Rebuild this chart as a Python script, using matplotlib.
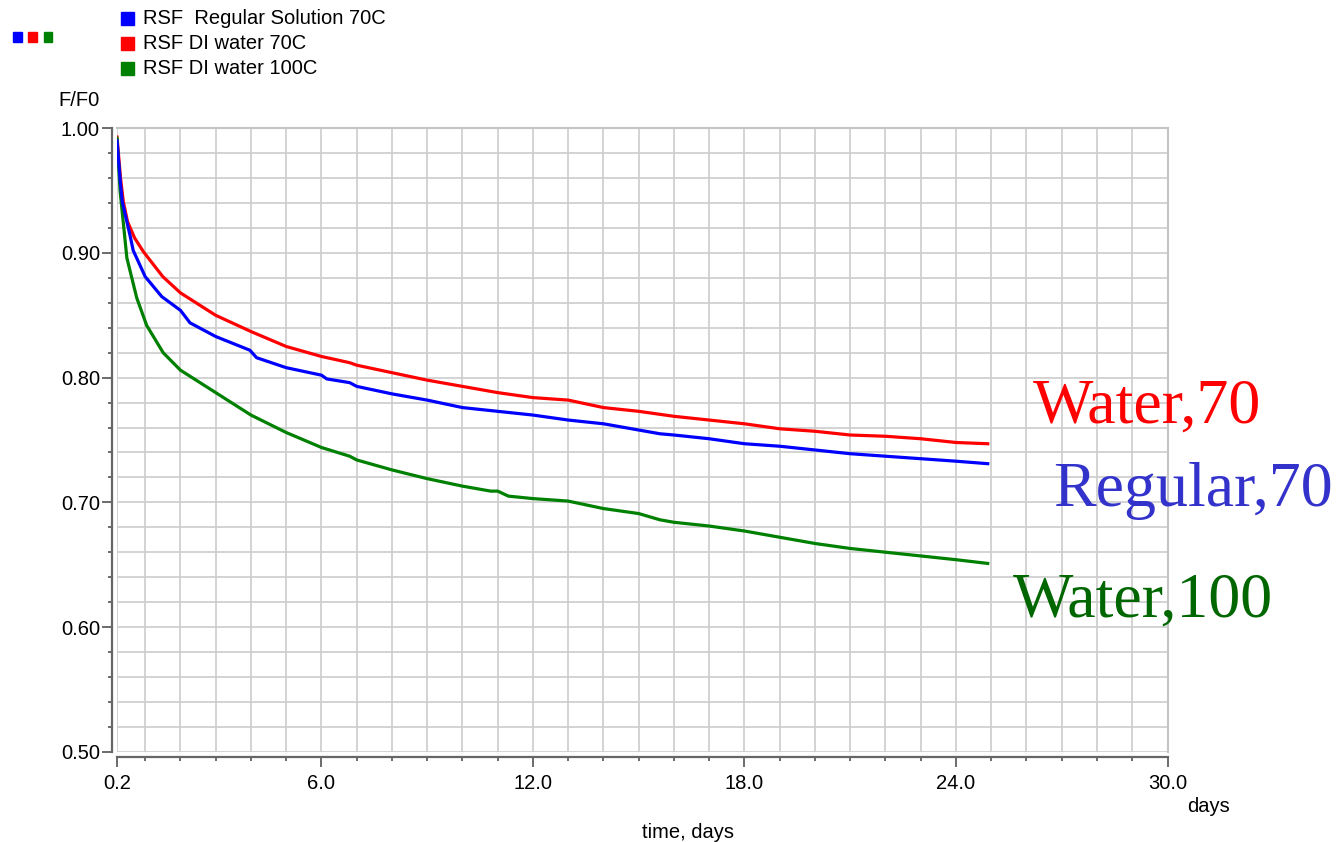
from matplotlib import pyplot as plt
from matplotlib.patches import Rectangle
from matplotlib.ticker import FixedLocator, MultipleLocator

plt.rcParams['font.family'] = ['Liberation Sans', 'DejaVu Sans']

# F/F0 readings, days
days_water70 = [0.2, 0.3, 0.38, 0.5, 0.7, 0.95, 1.5, 2.0, 3.0, 4.0, 5.0, 6.0, 6.8, 7, 8, 9, 10,
                11, 12, 13, 14, 15, 16, 17, 18, 19, 20, 21, 22, 23, 24, 24.9]
ff0_water70 = [0.993, 0.960, 0.941, 0.925, 0.912, 0.901, 0.881, 0.868, 0.850, 0.837, 0.825, 0.817,
               0.812, 0.810, 0.804, 0.798, 0.793, 0.788, 0.784, 0.782, 0.776, 0.773, 0.769, 0.766,
               0.763, 0.759, 0.757, 0.754, 0.753, 0.751, 0.748, 0.747]

days_regular70 = [0.2, 0.3, 0.35, 0.57, 0.66, 1.0, 1.47, 2.0, 2.27, 3.0, 3.97, 4.16, 5.0, 6.0, 6.15,
                  6.8, 7, 8, 9, 10, 11, 12, 13, 14, 15, 15.6, 16, 17, 18, 19, 20, 21, 22, 23, 24, 24.9]
ff0_regular70 = [0.990, 0.955, 0.941, 0.914, 0.902, 0.881, 0.865, 0.854, 0.844, 0.833, 0.822, 0.816,
                 0.808, 0.802, 0.799, 0.796, 0.793, 0.787, 0.782, 0.776, 0.773, 0.770, 0.766, 0.763,
                 0.758, 0.755, 0.754, 0.751, 0.747, 0.745, 0.742, 0.739, 0.737, 0.735, 0.733, 0.731]

days_water100 = [0.2, 0.29, 0.48, 0.76, 1.04, 1.51, 2.0, 2.5, 3.0, 3.5, 4.0, 5.0, 6.0, 6.8, 7, 8, 9,
                 10, 10.8, 11.0, 11.3, 12, 13, 14, 15, 15.6, 16, 17, 18, 19, 20, 21, 22, 23, 24, 24.9]
ff0_water100 = [0.992, 0.949, 0.896, 0.864, 0.842, 0.820, 0.806, 0.797, 0.788, 0.779, 0.770, 0.756,
                0.744, 0.737, 0.734, 0.726, 0.719, 0.713, 0.709, 0.709, 0.705, 0.703, 0.701, 0.695,
                0.691, 0.686, 0.684, 0.681, 0.677, 0.672, 0.667, 0.663, 0.660, 0.657, 0.654, 0.651]

series_names = ['RSF  Regular Solution 70C', 'RSF DI water 70C', 'RSF DI water 100C']
series_colors = ['#0000ff', '#ff0000', '#008000']

x_ticks = [0.2, 6.0, 12.0, 18.0, 24.0, 30.0]
y_ticks = [0.5, 0.6, 0.7, 0.8, 0.9, 1.0]

W, H = 1338, 842
fig = plt.figure(figsize=(W / 100, H / 100), dpi=100)


def fx(px):
    return px / W


def fy(py):
    return 1 - py / H


ax = fig.add_axes([fx(117), fy(751.7), (1167.5 - 117) / W, (751.7 - 128.3) / H])

ax.plot(days_water70, ff0_water70, color=series_colors[1], lw=2.3, zorder=3)
ax.plot(days_regular70, ff0_regular70, color=series_colors[0], lw=2.3, zorder=4)
ax.plot(days_water100, ff0_water100, color=series_colors[2], lw=2.3, zorder=3)

ax.set_xlim(0.2, 30.0)
ax.set_ylim(0.5, 1.0)
ax.xaxis.set_major_locator(FixedLocator(x_ticks))
ax.set_xticklabels(['%.1f' % t for t in x_ticks])
ax.xaxis.set_minor_locator(FixedLocator(range(1, 30)))
ax.yaxis.set_major_locator(FixedLocator(y_ticks))
ax.set_yticklabels(['%.2f' % t for t in y_ticks])
ax.yaxis.set_minor_locator(MultipleLocator(0.02))

ax.grid(which='both', color='#cccccc', lw=1.2)
ax.set_axisbelow(True)

for side in ['top', 'right']:
    ax.spines[side].set_color('#c4c4c4')
    ax.spines[side].set_linewidth(1.5)
for side in ['left', 'bottom']:
    ax.spines[side].set_position(('outward', 3.6))
    ax.spines[side].set_color('#666666')
    ax.spines[side].set_linewidth(1.6)

ax.tick_params(which='major', length=7.2, width=1.1, color='#444444', labelsize=14.5)
ax.tick_params(which='minor', length=3.2, width=1.1, color='#444444')
ax.tick_params(axis='x', pad=5.5)
ax.tick_params(axis='y', pad=1.5)

# axis titles
fig.text(fx(58), fy(100), 'F/F0', fontsize=14.5, ha='left', va='center')
fig.text(fx(688), fy(832), 'time, days', fontsize=14.5, ha='center', va='center')
fig.text(fx(1208), fy(806), 'days', fontsize=14.5, ha='center', va='center')

# legend at top
for i, (name, col) in enumerate(zip(series_names, series_colors)):
    top = 12 + 25 * i
    fig.add_artist(Rectangle((fx(121), fy(top + 13)), 13 / W, 13 / H, color=col,
                             transform=fig.transFigure))
    fig.text(fx(143), fy(top + 6.5), name, fontsize=14.5, ha='left', va='center')
    fig.add_artist(Rectangle((fx(13 + 15.3 * i), fy(41.5)), 8.5 / W, 9 / H, color=col,
                             transform=fig.transFigure))

# big labels
serif = ['Liberation Serif', 'DejaVu Serif']
fig.text(fx(1033), fy(423), 'Water,70', color='#ff0000', fontsize=46, family=serif,
         ha='left', va='baseline', zorder=5)
fig.text(fx(1053), fy(506), 'Regular,70', color='#3333cc', fontsize=46, family=serif,
         ha='left', va='baseline', zorder=5)
fig.text(fx(1013), fy(617), 'Water,100', color='#006600', fontsize=46, family=serif,
         ha='left', va='baseline', zorder=5)

plt.savefig('out.png', dpi=100)
